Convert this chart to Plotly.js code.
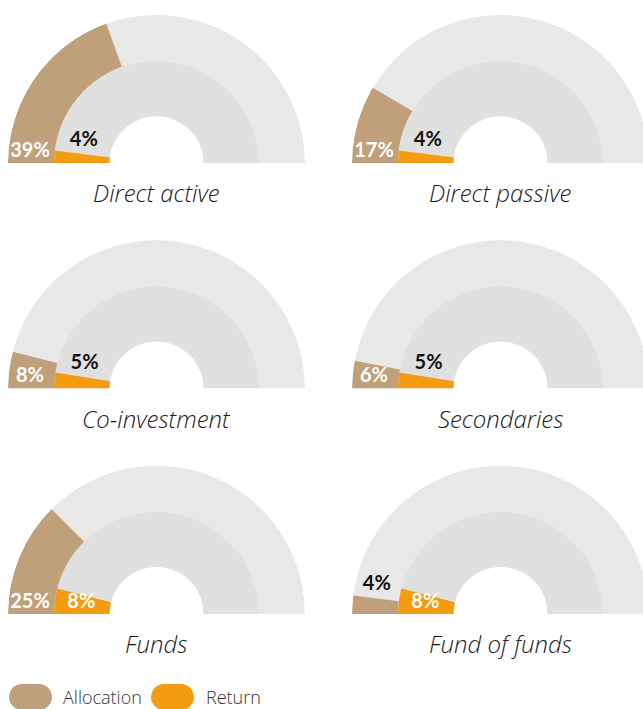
<!DOCTYPE html>
<html>
<head>
<meta charset="utf-8">
<script src="https://cdn.plot.ly/plotly-3.0.1.min.js"></script>
<style>
html,body{margin:0;padding:0;overflow:hidden;background:#fff;}
#chart{width:660px;height:709px;}
</style>
</head>
<body>
<div id="chart"></div>
<script>
// ---- data ----
const categories = ['Direct active', 'Direct passive', 'Co-investment', 'Secondaries', 'Funds', 'Fund of funds'];
const allocation = [39, 17, 8, 6, 25, 4];   // % of portfolio
const returns = [4, 4, 5, 5, 8, 8];         // % return
const legendLabels = ['Allocation', 'Return'];

// ---- styling / layout ----
const W = 660, H = 709;
const colAlloc = '#bfa07a', colRet = '#f39c12';
const bgOuter = '#e8e8e8', bgInner = '#e0e0e0';
const centersX = [156.5, 500.5];
const baselines = [163.3, 388.6, 614];
const R = 148.5, rMid = 102.5, rHole = 47;
const lblFont = 'Lato, "Open Sans", sans-serif';
const txtFont = '"Open Sans", Lato, sans-serif';

const data = [];
const layout = {
  width: W, height: H,
  margin: {l: 0, r: 0, t: 0, b: 0},
  paper_bgcolor: '#fff',
  showlegend: false,
  annotations: [],
  shapes: []
};

const deg = v => v * 1.8;          // percent -> degrees of the half circle
const toDeg = a => a * 180 / Math.PI;

categories.forEach((name, i) => {
  const col = i % 2, row = Math.floor(i / 2);
  const cx = centersX[col], cy = baselines[row];
  const key = 'polar' + (i === 0 ? '' : (i + 1));
  layout[key] = {
    domain: {
      x: [(cx - R) / W, (cx + R) / W],
      y: [(H - cy) / H, (H - cy + R) / H]
    },
    sector: [0, 180],
    hole: 0,
    bgcolor: 'rgba(0,0,0,0)',
    radialaxis: {visible: false, range: [0, R], showgrid: false, showline: false, ticks: ''},
    angularaxis: {visible: false, rotation: 180, direction: 'clockwise', showgrid: false, showline: false, ticks: ''}
  };
  const a = deg(allocation[i]), r = deg(returns[i]);
  data.push({
    type: 'barpolar',
    subplot: key,
    r: [R - rMid, rMid - rHole, R - rMid, rMid - rHole],
    base: [rMid, rHole, rMid, rHole],
    theta: [90, 90, a / 2, r / 2],
    width: [180, 180, a, r],
    marker: {color: [bgOuter, bgInner, colAlloc, colRet], line: {width: 0}},
    hoverinfo: 'skip'
  });

  // labels
  const rA = 127, rR = 76;
  const arcA = allocation[i] * 1.8 * Math.PI / 180 * rA;
  const arcR = returns[i] * 1.8 * Math.PI / 180 * rR;
  const aIn = arcA >= 18, rIn = arcR >= 18;
  const thA = aIn ? toDeg(11.5 / rA) : a + toDeg(13 / rA);
  const thR = rIn ? toDeg(11.5 / rR) : r + toDeg(13 / rR);
  data.push({
    type: 'scatterpolar',
    subplot: key,
    mode: 'text',
    r: [rA, rR],
    theta: [thA, thR],
    text: [allocation[i] + '%', returns[i] + '%'],
    textposition: 'middle center',
    textfont: {family: lblFont, size: 20, weight: 700, color: [aIn ? '#ffffff' : '#111111', rIn ? '#ffffff' : '#111111']},
    cliponaxis: false,
    hoverinfo: 'skip'
  });

  layout.annotations.push({
    xref: 'paper', yref: 'paper',
    x: cx / W, y: 1 - (cy + 29.5) / H,
    xanchor: 'center', yanchor: 'middle',
    text: name, showarrow: false,
    font: {family: txtFont, size: 24, style: 'italic', weight: 300, color: '#1a1a1a'}
  });
});

// legend: pills + labels
const pillX = [9, 151], textX = [61, 204], ly = 697, ph = 26, pw = 43;
[colAlloc, colRet].forEach((c, j) => {
  const x0 = pillX[j], x1 = x0 + pw, y0 = ly - ph / 2, y1 = ly + ph / 2, rr = ph / 2, k = 0.5523 * rr;
  const P = (x, y) => (x / W).toFixed(5) + ',' + (1 - y / H).toFixed(5);
  const path = 'M' + P(x0 + rr, y0) + ' L' + P(x1 - rr, y0) +
    ' C' + P(x1 - rr + k, y0) + ' ' + P(x1, ly - k) + ' ' + P(x1, ly) +
    ' C' + P(x1, ly + k) + ' ' + P(x1 - rr + k, y1) + ' ' + P(x1 - rr, y1) +
    ' L' + P(x0 + rr, y1) +
    ' C' + P(x0 + rr - k, y1) + ' ' + P(x0, ly + k) + ' ' + P(x0, ly) +
    ' C' + P(x0, ly - k) + ' ' + P(x0 + rr - k, y0) + ' ' + P(x0 + rr, y0) + ' Z';
  layout.shapes.push({type: 'path', xref: 'paper', yref: 'paper', path: path, fillcolor: c, line: {width: 0}});
  layout.annotations.push({
    xref: 'paper', yref: 'paper', x: textX[j] / W, y: 1 - ly / H,
    xanchor: 'left', yanchor: 'middle', text: legendLabels[j], showarrow: false,
    font: {family: txtFont, size: 18, weight: 300, color: '#333333'}
  });
});

Plotly.newPlot('chart', data, layout, {staticPlot: true, displayModeBar: false});
</script>
</body>
</html>
